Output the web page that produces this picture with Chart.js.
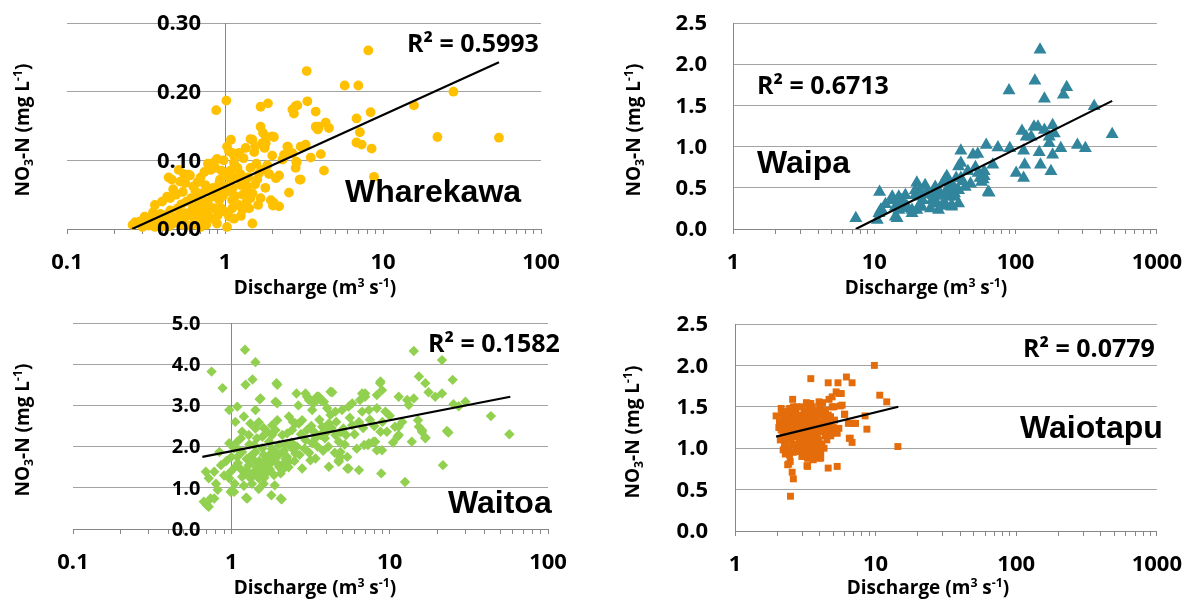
<!DOCTYPE html>
<html>
<head>
<meta charset="utf-8">
<script src="https://cdn.jsdelivr.net/npm/chart.js@4.4.1/dist/chart.umd.min.js"></script>
<style>
    html, body { margin: 0; padding: 0; background: #fff; }
    #wrap { position: relative; width: 1198px; height: 599px; }
    canvas { position: absolute; }
</style>
</head>
<body>
<div id="wrap">
    <canvas id="wharekawa" width="599" height="300" style="left:0;top:0"></canvas>
    <canvas id="waipa" width="599" height="300" style="left:599px;top:0"></canvas>
    <canvas id="waitoa" width="599" height="299" style="left:0;top:300px"></canvas>
    <canvas id="waiotapu" width="599" height="299" style="left:599px;top:300px"></canvas>
</div>
<script>
// discharge (m3/s), NO3-N (mg/L) pairs
const wharekawaPts = [
    [8.07,0.260],[3.29,0.230],[5.72,0.209],[6.98,0.209],[27.9,0.200],[1.02,0.187],[0.88,0.173],[3.32,0.186],
    [2.87,0.180],[2.73,0.168],[3.75,0.171],[15.7,0.180],[8.35,0.170],[6.8,0.161],[4.34,0.155],[3.93,0.149],
    [3.87,0.145],[4.55,0.147],[7.14,0.141],[22.1,0.134],[54.2,0.133],[6.79,0.126],[7.33,0.123],[8.47,0.117],
    [2.5,0.120],[3.01,0.120],[3.24,0.123],[2.36,0.108],[2.64,0.111],[4.04,0.109],[3.49,0.104],[2.84,0.097],
    [2.80,0.089],[4.23,0.085],[8.77,0.076],[2.97,0.072],[2.54,0.053],[2.2,0.078],[2.2,0.033],[1.68,0.178],
    [1.87,0.183],[1.68,0.149],[1.74,0.140],[2.04,0.134],[1.45,0.131],[1.09,0.130],[1.81,0.125],[1.78,0.118],
    [1.03,0.120],[1.06,0.113],[2.48,0.120],[2.67,0.110],[3.75,0.149],[1.53,0.112],[1.99,0.107],[1.31,0.103],
    [0.89,0.102],[0.85,0.097],[1.14,0.096],[1.20,0.089],[1.58,0.095],[1.45,0.089],[1.85,0.093],[2.31,0.101],
    [2.83,0.098],[3.01,0.072],[2.10,0.074],[1.03,0.078],[1.09,0.072],[0.74,0.083],[0.81,0.086],[0.87,0.089],
    [0.60,0.078],[0.44,0.075],[0.46,0.072],[0.52,0.069],[0.56,0.067],[0.67,0.068],[0.75,0.064],[0.92,0.067],
    [0.96,0.059],[1.26,0.064],[1.38,0.057],[1.49,0.052],[1.45,0.045],[1.68,0.045],[2.04,0.038],[2.01,0.034],
    [1.37,0.039],[1.11,0.042],[1.11,0.030],[1.29,0.028],[1.26,0.019],[1.49,0.008],[1.06,0.018],[1.14,0.015],
    [0.89,0.008],[0.45,0.045],[0.49,0.050],[0.54,0.054],[0.65,0.055],[0.72,0.052],[0.83,0.047],[0.92,0.042],
    [0.77,0.040],[0.68,0.035],[0.74,0.030],[0.62,0.028],[0.56,0.023],[0.51,0.018],[0.48,0.016],[0.42,0.020],
    [0.40,0.016],[0.38,0.011],[0.35,0.024],[0.34,0.016],[0.32,0.010],[0.29,0.011],[0.27,0.010],[0.26,0.006],
    [0.75,0.018],[0.72,0.013],[0.64,0.016],[0.62,0.006],[0.54,0.006],[0.70,0.003],[0.44,0.004],[0.36,0.003],
    [0.30,0.003],[0.51,0.086],[0.59,0.079],[0.43,0.047],[1.03,0.003],[1.38,0.062],[1.64,0.081],[1.71,0.086],
    [1.95,0.042],[1.23,0.111],[1.11,0.111],[1.81,0.135],[1.99,0.135],[1.49,0.130],[1.72,0.125],[2.67,0.174],
    [2.80,0.179],[0.31,0.018],[0.33,0.005],[0.37,0.008],[0.39,0.022],[0.41,0.004],[0.43,0.012],[0.45,0.027],
    [0.47,0.008],[0.50,0.030],[0.52,0.010],[0.53,0.036],[0.55,0.015],[0.57,0.040],[0.58,0.005],[0.60,0.020],
    [0.61,0.045],[0.63,0.035],[0.66,0.024],[0.67,0.008],[0.69,0.045],[0.70,0.020],[0.73,0.040],[0.76,0.006],
    [0.78,0.025],[0.79,0.055],[0.80,0.033],[0.82,0.015],[0.84,0.060],[0.86,0.030],[0.88,0.050],[0.90,0.020],
    [0.93,0.072],[0.95,0.030],[0.97,0.048],[1.00,0.062],[1.00,0.025],[1.05,0.055],[1.08,0.085],[1.12,0.060],
    [1.16,0.048],[1.18,0.075],[1.22,0.035],[1.25,0.080],[1.30,0.050],[1.33,0.070],[1.40,0.075],[1.42,0.030],
    [1.55,0.065],[1.60,0.072],[1.62,0.035],[1.80,0.060],[1.90,0.080],[0.47,0.058],[0.40,0.040],[0.36,0.035],
    [0.55,0.080],[0.63,0.062],[0.70,0.075],[0.78,0.095],[0.95,0.085],[0.98,0.100],[1.15,0.105],[1.35,0.118],
    [1.55,0.120]
];
const waipaPts = [
    [149,2.175],[137,1.80],[89.9,1.68],[230,1.72],[218,1.63],[160,1.58],[360,1.49],[483,1.15],
    [111,1.19],[119,1.12],[135,1.24],[144,1.24],[160,1.20],[183,1.26],[188,1.16],[173,1.12],
    [129,1.12],[173,1.04],[209,0.98],[274,1.02],[312,0.98],[147,0.93],[183,0.90],[114,0.95],
    [91,0.98],[75,0.99],[62,1.02],[50,0.90],[54,0.91],[41,0.95],[41,0.80],[69,0.78],
    [60,0.70],[116,0.78],[101,0.68],[114,0.62],[150,0.78],[178,0.70],[59,0.60],[65,0.44],
    [32.6,0.64],[30.9,0.57],[41,0.62],[44,0.51],[39.5,0.47],[34.5,0.51],[37,0.43],[33.5,0.39],
    [27,0.51],[28.5,0.47],[26.2,0.41],[22.9,0.53],[23.5,0.45],[20,0.56],[21,0.47],[19.5,0.41],
    [26.2,0.31],[31.7,0.31],[35.3,0.27],[28.5,0.23],[20,0.23],[18.5,0.19],[20.6,0.27],[16.6,0.41],
    [16.2,0.31],[14.9,0.23],[13.4,0.39],[14.1,0.27],[14.5,0.13],[10.9,0.45],[11.1,0.23],[10.5,0.11],
    [7.4,0.13],[11.3,0.23],[14.1,0.15],[64,0.45],[60,0.64],[39.5,0.76],[54.4,0.68],[57.5,0.57],
    [31.7,0.60],[33.5,0.51],[35.3,0.45],[37,0.39],[39.5,0.31],[35.3,0.29],[27,0.43],[25.6,0.35],
    [27.8,0.31],[19.5,0.47],[20.6,0.39],[18.5,0.23],[21.7,0.27],[14.9,0.39],[13.4,0.35],[16.6,0.25],
    [10.8,0.19],[12,0.30],[15.5,0.35],[17,0.28],[22,0.35],[24,0.42],[25,0.25],[29.5,0.40],
    [30,0.28],[32,0.45],[36,0.53],[38,0.62],[42,0.58],[46,0.70],[48,0.55],[52,0.75],[56,0.62]
];
const waitoaPts = [
    [1.22,4.35],[1.42,4.05],[0.75,3.82],[0.88,3.42],[1.36,3.63],[1.23,3.50],[1.95,3.50],[14.2,4.32],
    [21.4,4.10],[15.3,3.70],[16.8,3.54],[17.6,3.32],[19.4,3.21],[21.4,3.29],[1.53,3.17],[1.95,3.05],
    [1.90,3.09],[2.58,3.29],[3.01,3.21],[3.48,3.21],[3.66,3.13],[4.34,3.32],[0.97,2.89],[1.09,2.97],
    [1.42,2.89],[1.2,2.73],[1.06,2.60],[1.32,2.56],[1.49,2.59],[1.42,2.44],[1.17,2.36],[1.29,2.28],
    [1.69,2.36],[1.57,2.24],[1.81,2.52],[1.90,2.40],[2.10,2.28],[2.25,2.32],[2.42,2.40],[2.67,2.56],
    [2.80,2.64],[3.09,3.17],[3.32,3.05],[3.24,2.89],[3.57,3.21],[3.84,3.09],[4.03,2.93],[4.23,2.77],
    [4.54,2.85],[5.0,2.89],[5.5,2.97],[5.8,3.05],[6.7,3.29],[7.0,3.21],[8.3,3.25],[8.7,3.54],
    [8.95,3.37],[6.7,2.85],[7.4,2.89],[8.3,2.93],[9.4,2.85],[11.4,3.21],[13.2,3.01],[14.2,3.17],
    [15.1,2.64],[13.8,2.12],[16.0,2.40],[16.8,2.20],[10.8,2.48],[11.4,2.28],[9.6,2.36],[8.75,2.36],
    [8.95,1.91],[7.4,2.08],[8.1,2.12],[6.9,2.04],[6.4,2.60],[5.8,2.52],[5.1,2.44],[5.3,2.28],
    [4.54,2.28],[4.77,2.12],[4.13,2.56],[3.75,2.48],[4.03,2.36],[3.66,2.28],[3.4,2.20],[3.24,2.08],
    [2.94,2.16],[4.89,1.87],[5.4,1.75],[5.5,1.47],[4.13,1.51],[4.77,1.63],[6.4,1.43],[8.85,1.35],
    [12.5,1.14],[2.8,1.47],[3.16,1.67],[3.4,1.71],[2.42,1.96],[2.25,1.75],[2.54,1.83],[2.15,1.59],
    [2.31,1.63],[2.0,1.51],[2.1,1.43],[1.9,1.87],[1.73,1.79],[1.81,1.63],[1.65,1.67],[1.57,1.51],
    [1.69,1.39],[1.86,1.31],[1.49,1.23],[1.39,1.67],[1.29,1.55],[1.23,1.43],[1.39,1.39],[1.46,1.31],
    [1.32,1.23],[1.23,1.35],[1.17,1.27],[1.09,1.75],[1.06,1.51],[0.99,1.39],[0.97,1.23],[1.01,0.94],
    [1.04,0.90],[0.97,2.08],[1.04,1.96],[1.09,2.12],[1.12,1.91],[0.84,1.87],[0.86,1.55],[0.78,1.39],
    [0.72,1.23],[0.69,1.39],[0.74,0.74],[0.70,0.58],[1.24,0.76],[1.49,0.97],[1.79,0.82],[2.08,0.72],
    [1.88,1.06],[1.95,2.64],[2.31,2.73],[2.54,2.56],[1.81,2.28],[2.2,2.04],[2.0,2.04],[1.73,2.12],
    [1.57,1.96],[1.42,1.87],[1.17,1.87],[1.39,2.04],[1.93,3.54],[1.51,3.15],[0.72,0.54],[0.67,0.66],
    [0.78,0.74],[1.26,0.74],[2.05,0.74],[0.99,0.90],[25,3.62],[12.9,3.13],[25.3,3.03],[27.3,2.98],
    [30.1,3.09],[43.6,2.74],[57,2.30],[23.0,2.38],[23.5,2.34],[15.3,2.48],[16,2.36],[16.8,2.22],
    [11.2,2.24],[11.4,2.48],[21.7,1.55],[5.4,1.47],[4.89,1.75],[4.77,1.67],[7.3,2.04],[7.9,2.12],
    [8.3,1.91],[8.75,3.58],[7.0,3.29],[6.5,3.13],[4.23,3.33],[3.48,3.21],[3.09,3.13],[2.94,3.29],
    [1.1,1.6],[1.15,1.45],[1.25,1.7],[1.3,1.35],[1.35,1.8],[1.45,1.5],[1.5,1.65],[1.55,1.4],
    [1.6,1.8],[1.62,1.25],[1.7,1.55],[1.75,1.45],[1.8,1.95],[1.85,1.7],[1.95,1.6],[2.0,1.8],
    [2.05,1.35],[2.15,1.9],[2.2,1.7],[2.3,1.5],[2.4,2.1],[2.5,1.65],[2.6,2.0],[2.7,1.8],
    [2.75,2.3],[2.9,1.95],[3.0,2.4],[3.1,1.85],[3.2,2.5],[3.35,2.35],[3.5,2.0],[3.6,2.65],
    [3.8,1.9],[3.9,2.2],[4.1,2.0],[4.3,2.45],[4.5,1.85],[4.6,2.6],[4.9,2.35],[5.2,2.05],
    [5.6,2.7],[6.0,2.3],[6.2,1.95],[6.8,2.45],[7.5,2.65],[8.0,2.5],[9.0,2.6],[10,2.75],
    [10.5,2.1],[12,2.6],[2.45,2.6],[2.65,3.0],[1.3,2.05],[1.45,2.2],[1.6,2.45],[1.15,2.2],
    [1.0,1.75],[1.05,1.1],[1.2,1.05],[1.35,1.1],[1.6,1.1],[0.8,1.1],[0.9,1.3],[0.93,1.65],[0.82,0.95]
];
const waiotapuPts = [
    [9.8,2.0],[3.46,1.84],[4.6,1.79],[5.4,1.79],[6.2,1.86],[6.8,1.79],[2.57,1.59],[3.22,1.55],
    [3.96,1.56],[4.66,1.59],[4.91,1.62],[5.24,1.68],[5.54,1.66],[5.78,1.52],[4.91,1.50],[5.7,1.66],
    [10.7,1.64],[12.0,1.56],[2.13,1.48],[2.25,1.44],[1.96,1.39],[6.03,1.41],[6.8,1.30],[7.2,1.30],
    [8.42,1.39],[8.67,1.23],[14.4,1.02],[6.5,1.12],[6.8,1.07],[5.33,0.78],[4.6,0.76],[3.25,0.79],
    [2.99,0.90],[3.33,0.88],[2.28,0.93],[2.41,0.81],[2.37,0.80],[2.55,0.71],[2.60,0.63],[2.48,0.42],
    [3.96,0.88],[3.76,0.94],[3.37,1.48],[3.46,1.54],[3.96,1.44],[4.30,1.42],[4.78,1.38],[5.05,1.50],
    [5.6,1.51],[2.19,1.40],[2.07,1.32],[2.25,1.30],[2.51,1.38],[2.57,1.40],[2.87,1.36],[3.02,1.38],
    [2.79,1.30],[2.57,1.28],[2.31,1.26],[2.13,1.22],[3.28,1.32],[3.46,1.26],[3.76,1.34],[4.07,1.28],
    [4.42,1.30],[4.66,1.24],[4.91,1.22],[4.18,1.20],[3.85,1.16],[3.55,1.14],[3.19,1.18],[3.02,1.12],
    [2.72,1.14],[2.51,1.10],[2.37,1.16],[2.87,1.08],[2.57,1.04],[3.37,1.06],[3.85,1.04],[4.07,0.96],
    [3.46,0.96],[3.10,1.00],[2.72,0.98],[3.02,0.92],[3.28,0.88],[3.55,0.92],[3.96,0.90],[4.07,0.88],
    [2.44,0.92],[2.31,0.94],[2.47,0.84],[3.28,0.78],[5.48,1.24],[5.33,1.18],[6.6,1.12],[6.0,1.41],
    [7.0,1.30],[6.4,1.30],[2.2,1.35],[2.4,1.45],[2.7,1.45],[2.9,1.25],[3.1,1.28],[3.3,1.42],
    [3.6,1.38],[3.9,1.22],[4.2,1.36],[4.4,1.15],[2.45,1.20],[2.65,1.22],[2.95,1.18],[3.4,1.20],
    [3.7,1.08],[2.8,1.02],[3.2,0.98],[4.5,1.10],[5.1,1.34],[2.3,1.08],[2.2,1.15],[2.6,1.50],
    [3.0,1.50],[4.0,1.50],[4.4,1.46],[2.15,1.42],[2.3,1.38],[2.35,1.22],[2.4,1.3],[2.5,1.25],
    [2.55,1.15],[2.6,1.35],[2.65,1.42],[2.7,1.2],[2.75,1.05],[2.8,1.4],[2.85,1.25],[2.9,1.12],
    [2.95,1.35],[3.0,1.2],[3.05,1.05],[3.1,1.42],[3.15,1.3],[3.2,1.12],[3.25,1.02],[3.3,1.25],
    [3.35,1.35],[3.4,1.1],[3.45,1.4],[3.5,1.22],[3.55,1.3],[3.6,1.02],[3.65,1.45],[3.7,1.25],
    [3.75,1.12],[3.8,1.4],[3.9,1.3],[3.95,1.1],[4.0,1.2],[4.1,1.45],[4.15,1.05],[4.25,1.25],
    [4.35,1.35],[4.5,1.2],[4.6,1.4],[4.7,1.3],[4.8,1.15],[5.0,1.25],[2.25,1.05],[2.4,1.0],
    [2.6,0.95],[2.9,0.96],[3.15,0.9],[3.6,0.86],[3.9,0.96],[4.3,1.0],[2.2,1.25],[2.45,1.48],
    [2.75,1.5],[3.25,1.45],[3.55,1.5],[4.2,1.55],[2.05,1.25],[2.1,1.1],[2.2,0.98]
];

// trendline ends
const wharekawaTrendQ = [0.258, 54.2];
const wharekawaTrendN = [0.0, 0.243];
const waipaTrendQ = [7.4, 483];
const waipaTrendN = [0.0, 1.555];
const waitoaTrendQ = [0.656, 57.8];
const waitoaTrendN = [1.75, 3.21];
const waiotapuTrendQ = [1.96, 14.5];
const waiotapuTrendN = [1.14, 1.50];

const r2Labels = ['R² = 0.5993', 'R² = 0.6713', 'R² = 0.1582', 'R² = 0.0779'];
const siteNames = ['Wharekawa', 'Waipa', 'Waitoa', 'Waiotapu'];

const xTicksSmall = ['0.1', '1', '10', '100'];
const xTicksLarge = ['1', '10', '100', '1000'];
const yTicksWharekawa = ['0.00', '0.10', '0.20', '0.30'];
const yTicksHalf = ['0.0', '0.5', '1.0', '1.5', '2.0', '2.5'];
const yTicksWaitoa = ['0.0', '1.0', '2.0', '3.0', '4.0', '5.0'];

const xTitleParts = [['Discharge (m', 'n'], ['3', 'sup'], [' s', 'n'], ['-1', 'sup'], [')', 'n']];
const yTitleParts = [['NO', 'n'], ['3', 'sub'], ['-N (mg L', 'n'], ['-1', 'sup'], [')', 'n']];

const GRID = '#a3a3a3';
const AXIS = '#878787';
const FONT = '"Open Sans", Lato, sans-serif';

function richWidth(ctx, parts, size) {
    let w = 0;
    parts.forEach(([t, m]) => {
        ctx.font = `bold ${m === 'n' ? size : size * 0.65}px ${FONT}`;
        w += ctx.measureText(t).width;
    });
    return w;
}

function drawRich(ctx, parts, x, y, size) {
    ctx.textAlign = 'left';
    ctx.textBaseline = 'alphabetic';
    parts.forEach(([t, m]) => {
        ctx.font = `bold ${m === 'n' ? size : size * 0.65}px ${FONT}`;
        const dy = m === 'sub' ? size * 0.2 : (m === 'sup' ? -size * 0.38 : 0);
        ctx.fillText(t, x, y + dy);
        x += ctx.measureText(t).width;
    });
}

const panelText = {
    id: 'panelText',
    afterDraw(chart, args, o) {
        const ctx = chart.ctx;
        const xs = chart.scales.x;
        const ys = chart.scales.y;
        ctx.save();
        ctx.fillStyle = '#000';

        // y tick labels, left of the axis that crosses at x = axisAt
        ctx.font = `bold ${o.yTickSize}px ${FONT}`;
        ctx.textAlign = 'right';
        ctx.textBaseline = 'middle';
        const ax = xs.getPixelForValue(o.axisAt);
        ys.ticks.forEach((t, i) => {
            ctx.fillText(o.yLabels[i], ax - o.gap, ys.getPixelForValue(t.value) + 1);
        });

        // axis titles
        const ts = 19;
        drawRich(ctx, xTitleParts, o.xTitle.cx - richWidth(ctx, xTitleParts, ts) / 2, o.xTitle.y, ts);
        ctx.save();
        ctx.translate(o.yTitle.cx, o.yTitle.cy);
        ctx.rotate(-Math.PI / 2);
        drawRich(ctx, yTitleParts, -richWidth(ctx, yTitleParts, ts) / 2, ts * 0.36, ts);
        ctx.restore();

        // R squared
        ctx.font = `bold 25px ${FONT}`;
        ctx.textAlign = 'left';
        ctx.textBaseline = 'alphabetic';
        ctx.fillText(o.r2.text, o.r2.x, o.r2.y);

        // site name
        ctx.font = 'bold 32px "Liberation Sans", Arial, sans-serif';
        ctx.fillText(o.site.text, o.site.x, o.site.y);
        ctx.restore();
    }
};

function makePanel(id, p) {
    const yMin = parseFloat(p.yLabels[0]);
    const yMax = parseFloat(p.yLabels[p.yLabels.length - 1]);
    const yStep = parseFloat(p.yLabels[1]) - yMin;
    const xMin = parseFloat(p.xLabels[0]);
    const xMax = parseFloat(p.xLabels[p.xLabels.length - 1]);

    new Chart(document.getElementById(id), {
        data: {
            datasets: [{
                type: 'line',
                data: p.trendQ.map((q, i) => ({ x: q, y: p.trendN[i] })),
                borderColor: '#000',
                borderWidth: 2.2,
                pointRadius: 0,
                order: 0
            }, {
                type: 'scatter',
                data: p.points.map(([q, n]) => ({ x: q, y: n })),
                pointStyle: p.style,
                pointRadius: p.radius,
                backgroundColor: p.color,
                borderWidth: 0,
                clip: false,
                order: 1
            }]
        },
        options: {
            responsive: false,
            animation: false,
            events: [],
            layout: { padding: { left: p.area.left, top: p.area.top, right: p.area.right, bottom: 0 } },
            plugins: {
                legend: { display: false },
                tooltip: { enabled: false },
                panelText: p.text
            },
            scales: {
                x: {
                    type: 'logarithmic',
                    min: xMin,
                    max: xMax,
                    position: 'bottom',
                    afterBuildTicks: s => {
                        s.ticks = s.ticks.filter(t => {
                            const m = t.value / Math.pow(10, Math.floor(Math.log10(t.value) + 1e-9));
                            return Math.abs(m - Math.round(m)) < 1e-6;
                        });
                    },
                    afterFit: s => { s.height = p.area.axisH; },
                    grid: { drawOnChartArea: false, drawTicks: true, tickLength: 5, color: AXIS },
                    border: { color: AXIS, width: 1 },
                    ticks: {
                        autoSkip: false,
                        maxRotation: 0,
                        padding: 16,
                        color: '#000',
                        font: { family: FONT, weight: 'bold', size: 22 },
                        callback: v => p.xLabels.find(l => Math.abs(parseFloat(l) - v) < 1e-9 * Math.max(1, v)) || ''
                    }
                },
                y: {
                    type: 'linear',
                    min: yMin,
                    max: yMax,
                    position: { x: p.text.axisAt },
                    grid: { color: GRID, drawTicks: false, lineWidth: 1 },
                    border: { color: AXIS, width: 1 },
                    ticks: { display: false, stepSize: yStep }
                }
            }
        },
        plugins: [panelText]
    });
}

makePanel('wharekawa', {
    points: wharekawaPts, trendQ: wharekawaTrendQ, trendN: wharekawaTrendN,
    xLabels: xTicksSmall, yLabels: yTicksWharekawa,
    style: 'circle', radius: 4.9, color: '#FFC000',
    area: { left: 67, top: 23, right: 58, axisH: 71 },
    text: {
        axisAt: 1, gap: 24, yTickSize: 22, yLabels: yTicksWharekawa,
        r2: { text: r2Labels[0], x: 407, y: 52 },
        site: { text: siteNames[0], x: 345, y: 202 },
        xTitle: { cx: 315, y: 294 }, yTitle: { cx: 22, cy: 130 }
    }
});

makePanel('waipa', {
    points: waipaPts, trendQ: waipaTrendQ, trendN: waipaTrendN,
    xLabels: xTicksLarge, yLabels: yTicksHalf,
    style: 'triangle', radius: 7.5, color: '#31859C',
    area: { left: 134, top: 23, right: 39, axisH: 71 },
    text: {
        axisAt: 1, gap: 26, yTickSize: 22, yLabels: yTicksHalf,
        r2: { text: r2Labels[1], x: 158, y: 94 },
        site: { text: siteNames[1], x: 158, y: 173 },
        xTitle: { cx: 327, y: 294 }, yTitle: { cx: 34, cy: 130 }
    }
});

makePanel('waitoa', {
    points: waitoaPts, trendQ: waitoaTrendQ, trendN: waitoaTrendN,
    xLabels: xTicksSmall, yLabels: yTicksWaitoa,
    style: 'rectRot', radius: 5.2, color: '#92D050',
    area: { left: 73, top: 23, right: 51, axisH: 70 },
    text: {
        axisAt: 1, gap: 31, yTickSize: 20, yLabels: yTicksWaitoa,
        r2: { text: r2Labels[2], x: 428, y: 52 },
        site: { text: siteNames[2], x: 448, y: 213 },
        xTitle: { cx: 315, y: 294 }, yTitle: { cx: 22, cy: 130 }
    }
});

makePanel('waiotapu', {
    points: waiotapuPts, trendQ: waiotapuTrendQ, trendN: waiotapuTrendN,
    xLabels: xTicksLarge, yLabels: yTicksHalf,
    style: 'rect', radius: 4.9, color: '#E46C0A',
    area: { left: 136, top: 24, right: 35, axisH: 68 },
    text: {
        axisAt: 1, gap: 27, yTickSize: 22, yLabels: yTicksHalf,
        r2: { text: r2Labels[3], x: 424, y: 57 },
        site: { text: siteNames[3], x: 421, y: 138 },
        xTitle: { cx: 329, y: 294 }, yTitle: { cx: 33, cy: 132 }
    }
});
</script>
</body>
</html>
